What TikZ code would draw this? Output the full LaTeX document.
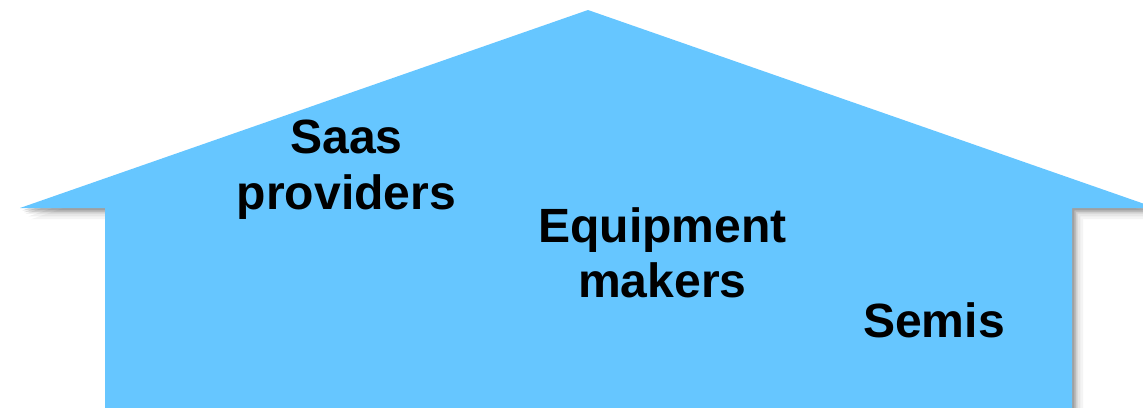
\documentclass[tikz,border=0pt]{standalone}
\usepackage{fontspec}
\setmainfont{Liberation Sans}
\usepackage{xcolor}
\usepackage{tikz}
\definecolor{housefill}{RGB}{102,198,255}
\definecolor{houseshade}{RGB}{40,40,40}
\tikzset{
  hs/.style  ={fill=houseshade, draw=none},
  hb/.style  ={fill=housefill, draw=none},
  lab/.style ={font=\fontsize{34.2}{39.5}\selectfont\bfseries, align=center, inner sep=0pt, text=black},
}
\begin{document}
\begin{tikzpicture}[scale=1]
  \useasboundingbox (0,0) rectangle (28.575,10.175);
  % soft shadow, outer to inner
  \fill[hs,opacity=0.05] (0.78,4.695) -- (14.98,9.645) -- (29.18,4.695) -- (27.08,4.695) -- (27.08,-0.5) -- (2.905,-0.5) -- (2.905,4.695) -- cycle;
  \fill[hs,opacity=0.07] (0.71,4.765) -- (14.91,9.715) -- (29.11,4.765) -- (27.01,4.765) -- (27.01,-0.5) -- (2.835,-0.5) -- (2.835,4.765) -- cycle;
  \fill[hs,opacity=0.10] (0.64,4.835) -- (14.84,9.785) -- (29.04,4.835) -- (26.94,4.835) -- (26.94,-0.5) -- (2.765,-0.5) -- (2.765,4.835) -- cycle;
  \fill[hs,opacity=0.14] (0.60,4.875) -- (14.80,9.825) -- (29.00,4.875) -- (26.90,4.875) -- (26.90,-0.5) -- (2.725,-0.5) -- (2.725,4.875) -- cycle;
  \fill[hs,opacity=0.18] (0.56,4.915) -- (14.76,9.865) -- (28.96,4.915) -- (26.86,4.915) -- (26.86,-0.5) -- (2.685,-0.5) -- (2.685,4.915) -- cycle;
  % house
  \fill[hb] (0.5,4.975) -- (14.7,9.925) -- (28.9,4.975) -- (26.8,4.975) -- (26.8,-0.5) -- (2.625,-0.5) -- (2.625,4.975) -- cycle;
  \node[lab] (saas)  at (8.66,5.93)   {Saas\\providers};
  \node[lab] (equip) at (16.56,3.86) {Equipment\\makers};
  \node[lab] (semis) at (23.35,2.16) {Semis};
\end{tikzpicture}
\end{document}
